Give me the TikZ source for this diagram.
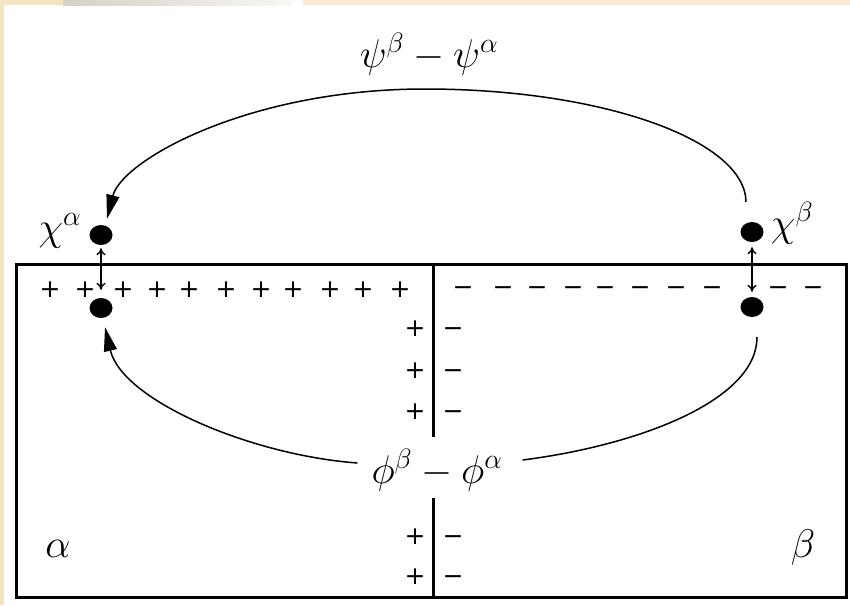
\RequirePackage{fix-cm}
\documentclass[tikz,border=0pt]{standalone}
\usepackage{amsmath}
\usepackage[no-math]{fontspec}
\usepackage{xcolor}
\usepackage{tikz}
\usetikzlibrary{arrows.meta,shapes.geometric}
\newfontfamily\chgfont{DejaVu Sans}
\definecolor{SlideBeige}{RGB}{245,228,190}
\definecolor{SlideGray}{RGB}{214,208,196}
\definecolor{SlidePeach}{RGB}{253,231,213}
\tikzset{
  blob/.style={ellipse,fill=black,inner sep=0pt,minimum width=23pt,minimum height=20pt},
  lbl/.style={inner sep=0pt,font=\fontsize{40}{48}\selectfont},
  chg/.style={inner sep=0pt,anchor=base,yshift=-8.6pt,font=\chgfont\fontsize{25}{30}\selectfont},
  link/.style={line width=1.5pt},
  flow/.style={link,-{Triangle[length=24pt,width=13pt]}},
  dbl/.style={line width=1.4pt,{To[length=7pt,width=9pt]}-{To[length=7pt,width=9pt]}},
  wall/.style={line width=3pt},
}

\begin{document}
\begin{tikzpicture}[x=1pt,y=-1pt]
        % slide background
        \useasboundingbox (0,0) rectangle (850,605);
        \fill[white] (0,0) rectangle (850,605);
        \fill[SlideBeige] (0,0) rectangle (4,605);
        \fill[SlideBeige] (0,0) rectangle (63,5);
        \shade[left color=SlideGray,right color=SlideGray!15] (63,0) rectangle (293,5);
        \fill[SlidePeach] (303,0) rectangle (850,5);
        % the two phases
        \draw[wall] (16,264) rectangle (846,597);
        \draw[wall] (433,264) -- (433,437);
        \draw[wall] (433,498) -- (433,597);
        \node[blob] (xa) at (101,235) {};
        \node[blob] (pa) at (101,308) {};
        \node[blob] (xb) at (752,232) {};
        \node[blob] (pb) at (752,307) {};
        \node[lbl,anchor=base] (cha) at (60,240)  {$\chi^\alpha$};
        \node[lbl,anchor=base] (chb) at (792,236) {$\chi^\beta$};
        \node[lbl,anchor=base] (psi) at (429,67)  {$\psi^\beta-\psi^\alpha$};
        \node[lbl,anchor=base] (phi) at (437,483) {$\phi^\beta-\phi^\alpha$};
        \node[lbl,anchor=base] (ra)  at (58,557)  {$\alpha$};
        \node[lbl,anchor=base] (rb)  at (803,557) {$\beta$};
        % charges
        \foreach \x [count=\i] in {50,85,123,157,189,226,261,293,330,363,400}
          \node[chg] (ptop\i) at (\x,289) {+};
        \foreach \x [count=\i] in {463,503,537,573,605,640,676,712,778,813}
          \node[chg] (mtop\i) at (\x,287) {−};
        \foreach \y [count=\i] in {328,370,411,536,576}{
          \node[chg] (pside\i) at (415,\y) {+};
          \node[chg] (mside\i) at (453,\y) {−};}
        % connectors
        \draw[dbl,shorten <=3pt,shorten >=8pt] (xa) -- (pa);
        \draw[dbl,shorten <=5pt,shorten >=5pt] (xb) -- (pb);
        \draw[flow] ([xshift=-6pt,yshift=20pt]xb.north) .. controls (745,140) and (602,89) .. (425,89)
                    .. controls (249,89) and (122,160) .. ([xshift=6pt,yshift=6pt]xa.north);
        \draw[flow] ([shift={(-14pt,20pt)}]phi.base west) .. controls (250,455) and (122,400) .. ([xshift=4pt,yshift=-9pt]pa.south);
        \draw[link] ([shift={(20pt,23pt)}]phi.base east) .. controls (640,445) and (757,400) .. ([xshift=5pt,yshift=-20pt]pb.south);
      \end{tikzpicture}
\end{document}
